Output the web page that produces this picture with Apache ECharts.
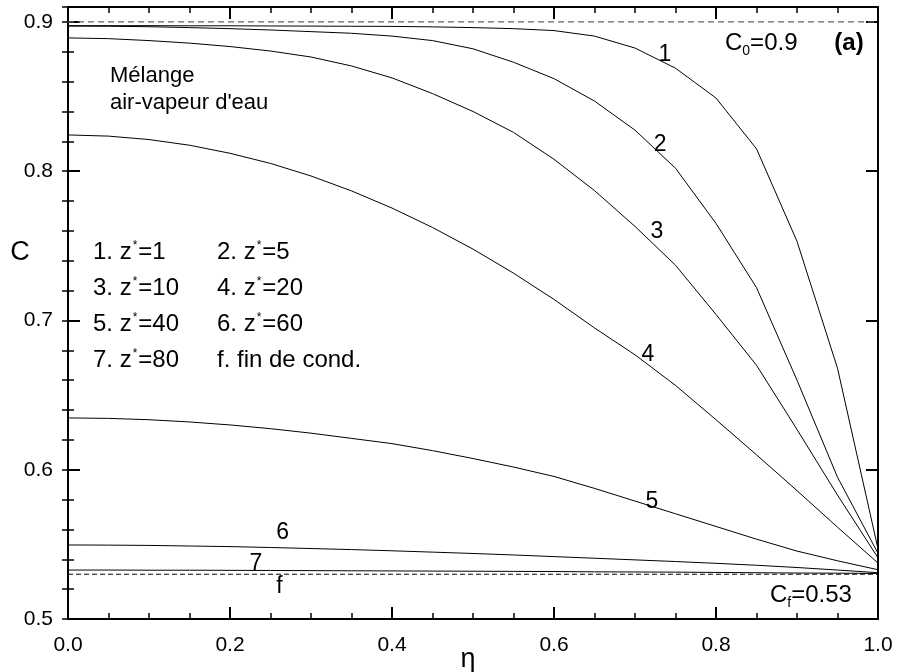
<!DOCTYPE html>
<html>
<head>
<meta charset="utf-8">
<script src="https://cdn.jsdelivr.net/npm/echarts@6/dist/echarts.min.js"></script>
<style>
html, body { margin: 0; padding: 0; background: #fff; }
#main { width: 898px; height: 672px; }
</style>
</head>
<body>
<div id="main"></div>
<script>
// abscisse commune (eta) et profils de concentration
var eta = [0, 0.05, 0.1, 0.15, 0.2, 0.25, 0.3, 0.35, 0.4, 0.45, 0.5,
           0.55, 0.6, 0.65, 0.7, 0.75, 0.8, 0.85, 0.9, 0.95, 1.0];

var c1 = [0.8975, 0.8975, 0.8975, 0.8974, 0.8974, 0.8973, 0.8972, 0.8971, 0.897, 0.8967, 0.8962,
          0.8955, 0.8942, 0.8905, 0.8825, 0.869, 0.849, 0.815, 0.753, 0.668, 0.547];
var c2 = [0.8972, 0.8971, 0.8968, 0.8962, 0.8955, 0.8946, 0.8935, 0.8924, 0.8905, 0.8875, 0.882,
          0.873, 0.862, 0.847, 0.8275, 0.802, 0.765, 0.722, 0.660, 0.595, 0.544];
var c3 = [0.8893, 0.8888, 0.8875, 0.8858, 0.8835, 0.8805, 0.8765, 0.8705, 0.8625, 0.852, 0.840,
          0.826, 0.808, 0.787, 0.763, 0.737, 0.704, 0.670, 0.627, 0.583, 0.541];
var c4 = [0.8243, 0.8235, 0.8212, 0.8174, 0.812, 0.8052, 0.7968, 0.7868, 0.7753, 0.7623, 0.7478,
          0.7317, 0.7141, 0.695, 0.677, 0.6565, 0.6335, 0.610, 0.586, 0.5615, 0.5375];
var c5 = [0.6347, 0.6344, 0.6335, 0.632, 0.630, 0.6275, 0.6245, 0.621, 0.6175, 0.6128, 0.6075,
          0.6018, 0.5955, 0.5875, 0.579, 0.5705, 0.562, 0.5535, 0.5455, 0.539, 0.533];
var c6 = [0.5496, 0.5495, 0.5493, 0.5489, 0.5485, 0.5479, 0.5472, 0.5465, 0.5457, 0.5448, 0.5439,
          0.5429, 0.5418, 0.5407, 0.5396, 0.5385, 0.5373, 0.536, 0.5345, 0.5328, 0.531];
var c7 = [0.5328, 0.5328, 0.5327, 0.5327, 0.5326, 0.5325, 0.5324, 0.5323, 0.5322, 0.5321, 0.532,
          0.5319, 0.5318, 0.5316, 0.5315, 0.5314, 0.5312, 0.531, 0.5308, 0.5307, 0.5305];

var C0 = 0.9;   // concentration d'entree
var Cf = 0.53;  // fin de condensation

var xTicks = ['0.0', '0.2', '0.4', '0.6', '0.8', '1.0'];
var yTicks = ['0.5', '0.6', '0.7', '0.8', '0.9'];

var FONT = "'Liberation Sans', Arial, sans-serif";

function pts(c) {
	return eta.map(function (x, i) { return [x, c[i]]; });
}

var myChart = echarts.init(document.getElementById('main'));

function curve(name, data, lx, ly) {
	return {
		name: name,
		type: 'line',
		data: pts(data),
		showSymbol: false,
		smooth: false,
		lineStyle: { color: '#000', width: 1 },
		silent: true,
		markPoint: {
			symbol: 'circle',
			symbolSize: 0,
			silent: true,
			label: { show: true, position: 'inside', formatter: name, color: '#000', fontSize: 23, fontFamily: FONT },
			data: [{ coord: [lx, ly] }]
		}
	};
}

var majorTick = { inside: true, length: 12, lineStyle: { color: '#000', width: 2 } };
var minorTick = { inside: true, length: 6, lineStyle: { color: '#000', width: 1.5 } };
var frameLine = { show: true, onZero: false, lineStyle: { color: '#000', width: 2 } };

var supStyle = { fontSize: 12, fontFamily: FONT, padding: [0, 1, 13, 1] };
var subStyle = { fontSize: 14, fontFamily: FONT, padding: [17, 0, 0, 0] };

function txt(text, x, y, size, extra) {
	var st = {
		text: text, x: x, y: y, fill: '#000',
		font: size + 'px ' + FONT,
		textVerticalAlign: 'middle',
		rich: { s: supStyle, b: subStyle }
	};
	for (var k in extra) st[k] = extra[k];
	return { type: 'text', silent: true, style: st };
}

var option = {
	animation: false,
	backgroundColor: '#fff',
	grid: { left: 68, right: 20, top: 7, bottom: 53, containLabel: false },
	xAxis: [{
		type: 'value', min: 0, max: 1, interval: 0.2, position: 'bottom',
		axisLine: frameLine, axisTick: majorTick,
		minorTick: { show: true, splitNumber: 4, length: 6, lineStyle: { color: '#000', width: 1.5 } },
		axisLabel: {
			color: '#000', fontSize: 21, fontFamily: FONT, margin: 16,
			formatter: function (v) { return xTicks[Math.round(v / 0.2)]; }
		},
		splitLine: { show: false }, minorSplitLine: { show: false }
	}, {
		type: 'value', min: 0, max: 1, interval: 0.2, position: 'top',
		axisLine: frameLine, axisTick: majorTick,
		minorTick: { show: true, splitNumber: 4, length: 6, lineStyle: { color: '#000', width: 1.5 } },
		axisLabel: { show: false }, splitLine: { show: false }
	}],
	yAxis: [{
		type: 'value', min: 0.5, max: 0.91, interval: 0.1, position: 'left',
		axisLine: frameLine, axisTick: majorTick,
		axisLabel: {
			color: '#000', fontSize: 21, fontFamily: FONT, margin: 15, showMaxLabel: false,
			formatter: function (v) { var i = Math.round((v - 0.5) / 0.1); return yTicks[i] || ''; }
		},
		splitLine: { show: false }
	}, {
		type: 'value', min: 0.5, max: 0.91, interval: 0.02, position: 'left',
		axisLine: { show: false }, axisTick: minorTick, axisLabel: { show: false }, splitLine: { show: false }
	}, {
		type: 'value', min: 0.5, max: 0.91, interval: 0.1, position: 'right',
		axisLine: frameLine, axisTick: majorTick, axisLabel: { show: false }, splitLine: { show: false }
	}, {
		type: 'value', min: 0.5, max: 0.91, interval: 0.02, position: 'right',
		axisLine: { show: false }, axisTick: minorTick, axisLabel: { show: false }, splitLine: { show: false }
	}],
	series: [
		curve('1', c1, 0.737, 0.878),
		curve('2', c2, 0.731, 0.8176),
		curve('3', c3, 0.727, 0.7593),
		curve('4', c4, 0.716, 0.6769),
		curve('5', c5, 0.721, 0.5784),
		curve('6', c6, 0.265, 0.5576),
		curve('7', c7, 0.232, 0.5369),
		{
			name: 'C0', type: 'line', data: [[0, C0], [1, C0]], showSymbol: false, silent: true,
			lineStyle: { color: '#666', width: 1.2, type: [6, 4] }
		},
		{
			name: 'f', type: 'line', data: [[0, Cf], [1, Cf]], showSymbol: false, silent: true,
			lineStyle: { color: '#000', width: 1, type: [5, 3] },
			markPoint: {
				symbol: 'circle', symbolSize: 0, silent: true,
				label: { show: true, position: 'inside', formatter: 'f', color: '#000', fontSize: 23, fontFamily: FONT },
				data: [{ coord: [0.261, 0.5214] }]
			}
		}
	],
	graphic: [
		txt('C', 20, 253, 27, { textAlign: 'center' }),
		txt('\u03b7', 468, 660, 27, { textAlign: 'center' }),
		txt('Mélange', 110, 76, 22, {}),
		txt("air-vapeur d'eau", 110, 103, 22, {}),
		txt('1. z{s|*}=1', 93, 252, 24, {}),
		txt('2. z{s|*}=5', 217, 252, 24, {}),
		txt('3. z{s|*}=10', 93, 288, 24, {}),
		txt('4. z{s|*}=20', 217, 288, 24, {}),
		txt('5. z{s|*}=40', 93, 324, 24, {}),
		txt('6. z{s|*}=60', 217, 324, 24, {}),
		txt('7. z{s|*}=80', 93, 360, 24, {}),
		txt('f. fin de cond.', 217, 360, 24, {}),
		txt('C{b|0}=0.9', 725, 43, 24, {}),
		txt('(a)', 849, 43, 24, { textAlign: 'center', font: 'bold 24px ' + FONT }),
		txt('C{b|f}=0.53', 770, 595, 24, {})
	]
};
myChart.setOption(option);
</script>
</body>
</html>
